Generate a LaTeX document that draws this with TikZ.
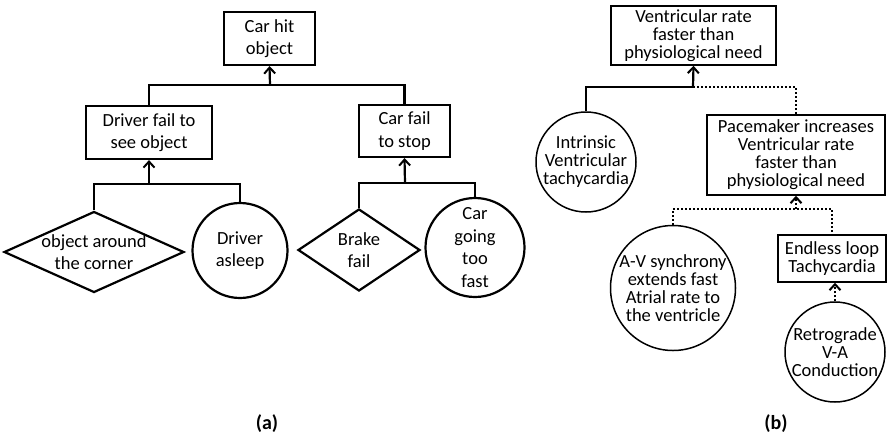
\documentclass[tikz,border=0pt]{standalone}
\usepackage{fontspec}
\setmainfont{Carlito}
\usetikzlibrary{shapes.geometric,arrows.meta}

\begin{document}
\begin{tikzpicture}[x=1pt, y=-1pt,
  fa/.style={font=\fontsize{18.5}{22.5}\selectfont, align=center, inner sep=0pt},
  fb/.style={font=\fontsize{18.5}{18}\selectfont, align=center, inner sep=0pt},
  boxa/.style={draw, line width=2.2pt, fa},
  boxb/.style={draw, line width=1.5pt, fb},
  diam/.style={draw, diamond, line width=2.2pt, inner sep=0pt},
  circa/.style={draw, circle, line width=2.2pt, inner sep=0pt},
  circb/.style={draw, circle, line width=1.5pt, inner sep=0pt},
  gate/.style={line width=2.2pt},
  dots/.style={line width=2pt, dash pattern=on 2pt off 2pt},
  up/.style={-{Straight Barb[length=6pt,width=11pt,line width=2pt]}},
  caption/.style={font=\bfseries\fontsize{20}{24}\selectfont}]

\useasboundingbox (0,0) rectangle (887,440);

% (a) car accident tree
\node[boxa, minimum width=91, minimum height=53] (hit) at (269.5,38.5) {Car hit\\object};
\node[boxa, minimum width=126, minimum height=53] (drv) at (149,132.5) {Driver fail to\\see object};
\node[boxa, minimum width=91, minimum height=52] (stop) at (404.5,131) {Car fail\\to stop};

\node[diam, minimum width=180, minimum height=81] (corner) at (94,252) {};
\node[fa] (corner-t) at (corner) {object around\\the corner};
\node[circa, minimum size=95] (asleep) at (240,250.5) {};
\node[fa] (asleep-t) at (asleep) {Driver\\asleep};
\node[diam, minimum width=122, minimum height=82] (brake) at (359,250) {};
\node[fa] (brake-t) at (brake) {Brake\\fail};
\node[circa, minimum size=99] (fast) at (475,247.5) {};
\node[fa] (fast-t) at (fast) {Car\\going\\too\\fast};

\coordinate (j0) at (270,85);
\coordinate (j1) at (149,184);
\coordinate (j2) at (405,183);
\draw[gate] (drv.north) |- (j0) -| (stop.north);
\draw[gate,up] (j0) -- (hit.south);
\draw[gate] (corner.north) |- (j1) -| (asleep.north);
\draw[gate,up] (j1) -- (drv.south);
\draw[gate] (brake.north) |- (j2) -| (fast.north);
\draw[gate,up] (j2) -- (stop.south);

% (b) pacemaker tachycardia tree
\node[boxb, minimum width=165, minimum height=59] (rate) at (693.5,35.5) {Ventricular rate\\faster than\\physiological need};
\node[circb, minimum size=100] (intr) at (586,162) {};
\node[fb] (intr-t) at (intr) {Intrinsic\\Ventricular\\tachycardia};
\node[boxb, minimum width=178, minimum height=80] (pace) at (796,155) {Pacemaker increases\\Ventricular rate\\faster than\\physiological need};
\node[circb, minimum size=125] (sync) at (673,288) {};
\node[fb] (sync-t) at (sync) {A-V synchrony\\extends fast\\Atrial rate to\\the ventricle};
\node[boxb, minimum width=108, minimum height=47] (loop) at (832,258.5) {Endless loop\\Tachycardia};
\node[circb, minimum size=100] (retro) at (835,352) {};
\node[fb] (retro-t) at (retro) {Retrograde\\V-A\\Conduction};

\coordinate (k0) at (693,87);
\coordinate (k1) at (796,209);
\draw[gate] (k0) -| (intr.north);
\draw[dots] (k0) -| (pace.north);
\draw[gate,up] (k0) -- (rate.south);
\draw[dots] (sync.north) |- (k1) -| (loop.north);
\draw[dots,up] (k1) -- (pace.south);
\draw[dots,up] (retro.north) -- (retro.north |- loop.south);

% captions
\node[caption] (cap-a) at (267,424) {(a)};
\node[caption] (cap-b) at (776,424) {(b)};

\end{tikzpicture}
\end{document}
